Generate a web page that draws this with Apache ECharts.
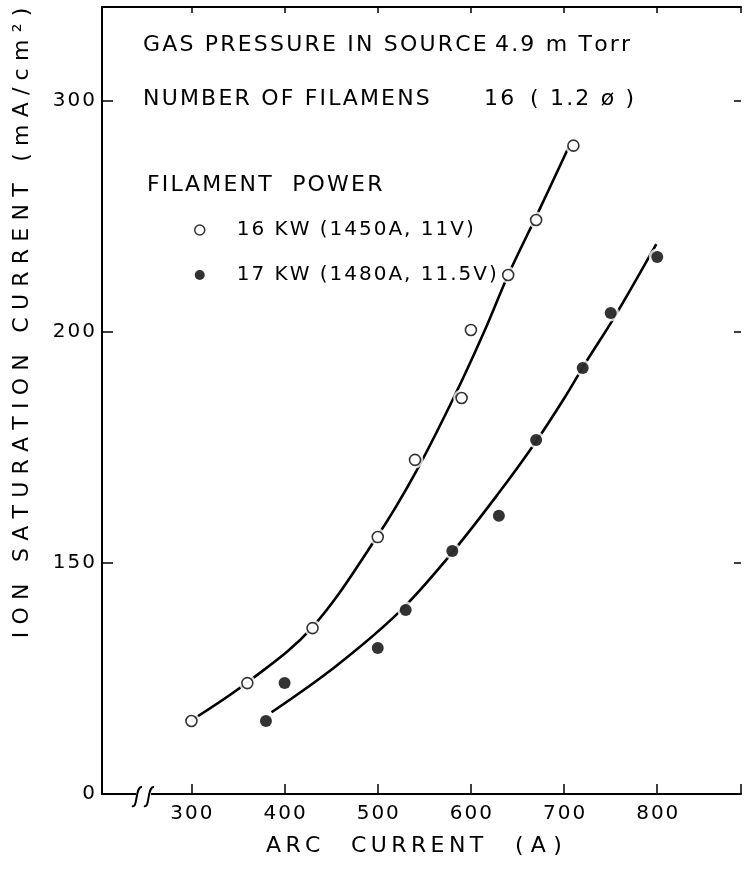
<!DOCTYPE html>
<html><head><meta charset="utf-8">
<script src="https://cdn.jsdelivr.net/npm/echarts@6/dist/echarts.min.js"></script>
<style>html,body{margin:0;padding:0;background:#fff}#c{width:744px;height:877px}</style>
</head><body><div id="c"></div>
<script>
// ---- tick labels ----
const xTickValues = [300, 400, 500, 600, 700, 800];
const yTickValues = [100, 150, 200, 250];
const yTickLabels = ['0', '150', '200', '300'];

// ---- measured points (arc current A, ion saturation current on the drawn scale) ----
const NAME16 = '16 KW (1450A, 11\u2164)';
const NAME17 = '17 KW (1480A, 11.5\u2164)';
const open16X = [300, 360, 430, 500, 540, 590, 600, 640, 670, 710];
const open16Y = [115.8, 124.0, 135.9, 155.6, 172.3, 185.7, 200.4, 212.3, 224.2, 240.3];
const fill17X = [380, 400, 500, 530, 580, 630, 670, 720, 750, 800];
const fill17Y = [115.8, 124.0, 131.6, 139.8, 152.6, 160.2, 176.6, 192.2, 204.1, 216.2];

// ---- hand-drawn fitted curves ----
const curve16X = [299, 359, 429, 499, 542, 584, 615, 640, 672, 705];
const curve16Y = [115.8, 124.0, 135.9, 155.6, 170.1, 186.8, 200.4, 212.3, 225.8, 240.0];
const curve17X = [386, 454, 522, 576, 629, 669, 701, 723, 754, 799];
const curve17Y = [117.7, 127.5, 139.2, 151.3, 164.9, 176.0, 185.9, 193.3, 203.2, 219.0];

const FONT = '"DejaVu Sans", sans-serif';
const HAIR = '\u200A', THIN = '\u2009', THREE = '\u2004';
const sp = (s, c) => Array.from(s).join(c);
const pairs = (xs, ys) => xs.map((x, i) => [x, ys[i]]);
const allPts = pairs(open16X, open16Y).concat(pairs(fill17X, fill17Y));

const chart = echarts.init(document.getElementById('c'), null, {renderer: 'canvas'});
const axisLine = {show: true, lineStyle: {color: '#000', width: 2}};
const txt = (x, y, s, size, extra) => Object.assign({
  type: 'text', x: x, y: y, z: 100,
  style: {text: s, font: size + 'px "DejaVu Sans"', fill: '#000', verticalAlign: 'middle', align: 'left'}
}, extra || {});

chart.setOption({
  animation: false,
  backgroundColor: '#fff',
  grid: {left: 102, right: 0, top: 7, bottom: 83},
  xAxis: [
    {type: 'value', min: 204, max: 889.9, splitNumber: 7, axisLine: axisLine,
     axisTick: {inside: true, length: 10, lineStyle: {color: '#000', width: 1.5}},
     axisLabel: {margin: 10, color: '#000', fontFamily: FONT, fontSize: 20,
       formatter: v => xTickValues.includes(v) ? sp(String(v), HAIR) : ''},
     splitLine: {show: false}},
    {type: 'value', position: 'top', min: 204, max: 889.9, splitNumber: 7, axisLine: axisLine,
     axisTick: {inside: true, length: 6, lineStyle: {color: '#000', width: 1.5}},
     axisLabel: {show: false}, splitLine: {show: false}}
  ],
  yAxis: [
    {type: 'value', position: 'left', min: 100, max: 270.3, interval: 50, axisLine: axisLine,
     axisTick: {inside: true, length: 11, lineStyle: {color: '#000', width: 1.5}},
     axisLabel: {margin: 7, color: '#000', fontFamily: FONT, fontSize: 20,
       formatter: v => { const i = yTickValues.indexOf(v); return i < 0 ? '' : sp(yTickLabels[i], HAIR); }},
     splitLine: {show: false}},
    {type: 'value', position: 'right', min: 100, max: 270.3, interval: 50, axisLine: {show: false},
     axisTick: {inside: true, length: 7, lineStyle: {color: '#000', width: 1.5}},
     axisLabel: {show: false}, splitLine: {show: false}}
  ],
  legend: {
    data: [
      {name: NAME16, icon: 'circle', itemStyle: {color: '#fff', borderColor: '#000', borderWidth: 1.5}},
      {name: NAME17, icon: 'circle', itemStyle: {color: '#000', borderWidth: 0}}
    ],
    orient: 'vertical', left: 189, top: 213, itemWidth: 10, itemHeight: 10, itemGap: 21,
    selectedMode: false,
    textStyle: {fontFamily: FONT, fontSize: 20, color: '#000', lineHeight: 24, padding: [0, 0, 0, 27]},
    formatter: n => sp(n, HAIR)
  },
  series: [
    {type: 'line', name: 'fit16', data: pairs(curve16X, curve16Y), smooth: 0.35, symbol: 'none',
     lineStyle: {color: '#000', width: 2.6}, z: 2, silent: true},
    {type: 'line', name: 'fit17', data: pairs(curve17X, curve17Y), smooth: 0.35, symbol: 'none',
     lineStyle: {color: '#000', width: 2.6}, z: 2, silent: true},
    {type: 'scatter', name: 'halo', data: allPts, symbolSize: 17, itemStyle: {color: '#fff'}, z: 3, silent: true},
    {type: 'scatter', name: NAME16, data: pairs(open16X, open16Y), symbol: 'circle', symbolSize: 11,
     itemStyle: {color: '#fff', borderColor: '#000', borderWidth: 1.6}, z: 4},
    {type: 'scatter', name: NAME17, data: pairs(fill17X, fill17Y), symbol: 'circle', symbolSize: 12,
     itemStyle: {color: '#000'}, z: 4}
  ],
  graphic: [
    txt(143, 45, sp('GAS PRESSURE IN SOURCE', HAIR), 22),
    txt(495, 45, sp('4.9 m Torr', HAIR), 22),
    txt(143, 99, sp('NUMBER OF FILAMENS', HAIR), 22),
    txt(484, 99, sp('16', HAIR), 22),
    txt(530, 99, sp('( 1.2 \u00f8 )', HAIR), 22),
    txt(147, 185, sp('FILAMENT  POWER', HAIR), 22),
    txt(266, 846, sp('ARC', THIN), 22),
    txt(351, 846, sp('CURRENT', THIN), 22),
    txt(515, 846, sp('(A)', THREE), 22),
    {type: 'text', x: 22, y: 323, rotation: Math.PI / 2, z: 100,
     style: {text: sp('ION SATURATION CURRENT (mA/cm\u00b2)', THREE), font: '22px "DejaVu Sans"',
       fill: '#000', align: 'center', verticalAlign: 'middle'}},
    {type: 'rect', z: 100, shape: {x: 136, y: 790, width: 15, height: 8}, style: {fill: '#fff'}},
    {type: 'bezierCurve', z: 101, shape: {x1: 132, y1: 806, cpx1: 138, cpy1: 809, cpx2: 135, cpy2: 786, x2: 142, y2: 787},
     style: {stroke: '#000', lineWidth: 2, fill: null}},
    {type: 'bezierCurve', z: 101, shape: {x1: 144, y1: 806, cpx1: 150, cpy1: 809, cpx2: 147, cpy2: 786, x2: 154, y2: 787},
     style: {stroke: '#000', lineWidth: 2, fill: null}}
  ]
});
</script></body></html>
